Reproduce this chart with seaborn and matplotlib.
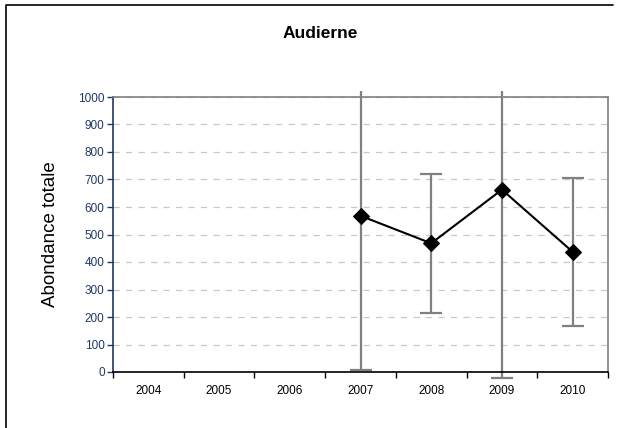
import numpy as np
import pandas as pd
import matplotlib
matplotlib.use("Agg")
from matplotlib import pyplot as plt
from matplotlib.lines import Line2D
from matplotlib.patches import Rectangle
import seaborn as sns

years = ["2004", "2005", "2006", "2007", "2008", "2009", "2010"]
abondance = [np.nan, np.nan, np.nan, 568, 468, 663, 437]
erreur = [np.nan, np.nan, np.nan, 561, 253, 684, 270]

df = pd.DataFrame({"annee": years, "abondance": abondance, "erreur": erreur})
df["pos"] = np.arange(len(years))

sns.set_theme(style="white")
plt.rcParams["font.family"] = ["Liberation Sans", "DejaVu Sans"]

fig = plt.figure(figsize=(6.19, 4.28), dpi=100)
ax = fig.add_axes([113 / 619, 1 - 372 / 428, (608 - 113) / 619, (372 - 97) / 428])

# outer chart border (left and top edges only visible in the crop)
fx, fy = 6 / 619, 1 - 5 / 428
fig.lines.append(Line2D([fx, fx, 613 / 619], [0, fy, fy],
                        transform=fig.transFigure, color="black", linewidth=1.2))

# error bars, clipped slightly outside the plot area
clip = Rectangle((0, -0.1), 1, 1.122, transform=ax.transAxes)
ok = df.dropna()
lo = ok["abondance"] - ok["erreur"]
hi = ok["abondance"] + ok["erreur"]
vl = ax.vlines(ok["pos"], lo, hi, color="#808080", linewidth=1.6, zorder=2)
vl.set_clip_path(clip)
for y in (lo, hi):
    caps, = ax.plot(ok["pos"], y, ls="none", marker="_", markersize=16,
                    markeredgewidth=1.6, color="#808080", zorder=2)
    caps.set_clip_path(clip)

sns.lineplot(data=ok, x="pos", y="abondance", ax=ax, color="black",
             marker="D", markersize=8, markeredgecolor="black",
             linewidth=1.5, zorder=3)

ax.set_xlim(-0.5, len(years) - 0.5)
ax.set_ylim(0, 1000)
ax.set_yticks(np.arange(0, 1001, 100))
ax.tick_params(axis="y", labelsize=8.5, labelcolor="#1F3864", length=4,
               width=1, color="#1F3864", left=True, direction="out", pad=2)
ax.set_xticks(np.arange(-0.5, len(years), 1))
ax.set_xticklabels([])
ax.set_xticks(np.arange(len(years)), minor=True)
ax.set_xticklabels(years, minor=True)
ax.tick_params(axis="x", which="major", length=4, width=1, color="black",
               bottom=True, direction="out")
ax.tick_params(axis="x", which="minor", length=0, labelsize=8.5, pad=9,
               labelcolor="black")

ax.yaxis.grid(True, linestyle=(0, (5, 5)), color="#C8C8C8", linewidth=0.9)
ax.xaxis.grid(False)
ax.set_axisbelow(True)

ax.spines["left"].set_color("#1F3864")
ax.spines["bottom"].set_color("black")
ax.spines["top"].set_color("#808080")
ax.spines["right"].set_color("#808080")
for s in ax.spines.values():
    s.set_linewidth(1.2)

ax.set_xlabel("")
ax.set_ylabel("Abondance totale", fontsize=13.5, color="black", labelpad=14)
fig.text(320 / 619, 1 - 33 / 428, "Audierne", ha="center",
         va="center", fontsize=12.5, fontweight="bold", color="black")

fig.savefig("out.png", dpi=100)
